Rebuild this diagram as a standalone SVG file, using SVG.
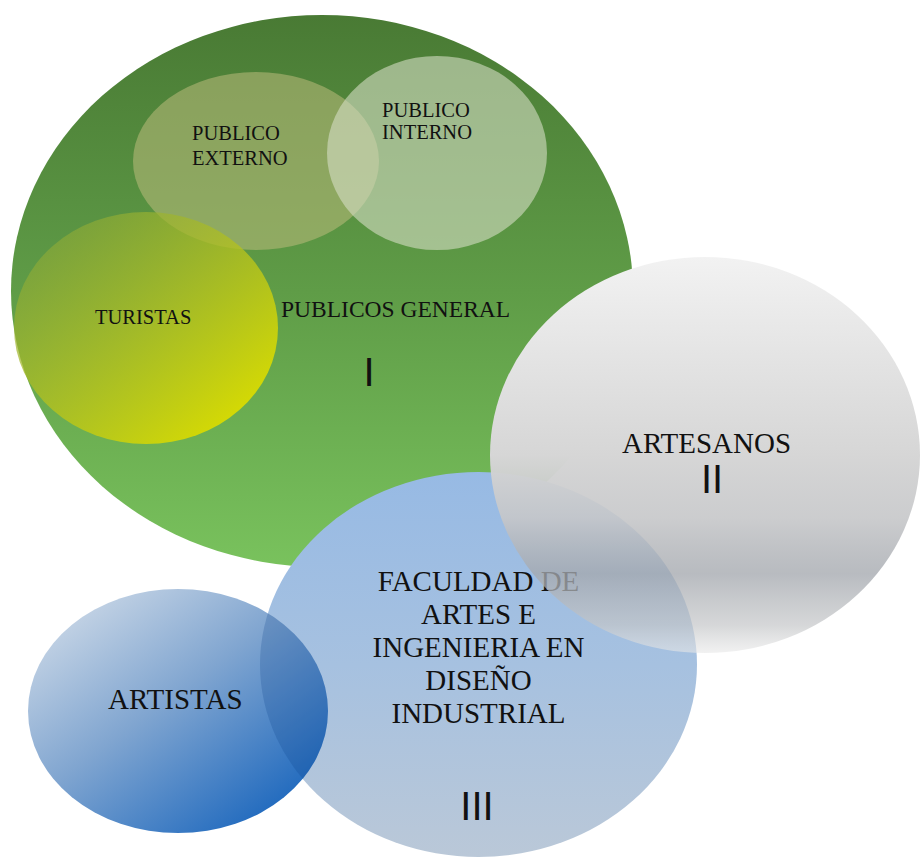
<svg xmlns="http://www.w3.org/2000/svg" width="920" height="858" viewBox="0 0 920 858">
<defs>
<linearGradient id="gGreen" x1="0" y1="0" x2="0" y2="1">
<stop offset="0" stop-color="#497a34"/>
<stop offset="0.5" stop-color="#5f9c47"/>
<stop offset="1" stop-color="#79c25d"/>
</linearGradient>
<linearGradient id="gTur" x1="0.1" y1="0.1" x2="0.85" y2="0.9">
<stop offset="0" stop-color="#8aa83a" stop-opacity="0.6"/>
<stop offset="0.5" stop-color="#b2c020" stop-opacity="0.8"/>
<stop offset="1" stop-color="#dadc00" stop-opacity="0.97"/>
</linearGradient>
<linearGradient id="gBlue" x1="0" y1="0" x2="0" y2="1">
<stop offset="0" stop-color="#97bae4"/>
<stop offset="0.5" stop-color="#a6c1e0"/>
<stop offset="1" stop-color="#bac8d8"/>
</linearGradient>
<linearGradient id="gGrey" x1="0" y1="0" x2="0" y2="1">
<stop offset="0" stop-color="#f2f2f2" stop-opacity="1"/>
<stop offset="0.5" stop-color="#d6d6d6" stop-opacity="1"/>
<stop offset="0.66" stop-color="#c6c7c9" stop-opacity="0.9"/>
<stop offset="0.8" stop-color="#a4a8ae" stop-opacity="0.78"/>
<stop offset="0.93" stop-color="#c4c6c8" stop-opacity="0.7"/>
<stop offset="1" stop-color="#e8e8e8" stop-opacity="0.6"/>
</linearGradient>
<linearGradient id="gArt" x1="0.12" y1="0.08" x2="0.88" y2="0.92">
<stop offset="0" stop-color="#c8d6e6"/>
<stop offset="0.45" stop-color="#80a5d0"/>
<stop offset="1" stop-color="#1a66bd"/>
</linearGradient>
<clipPath id="cArt">
<ellipse cx="178" cy="711" rx="150" ry="122"/>
</clipPath>
</defs>
<style>
.lbl{font-family:"Liberation Serif","Times New Roman",serif;fill:#111}
.num{font-family:"Liberation Sans",Arial,sans-serif;fill:#111;font-size:40px;text-anchor:middle}
.s{font-size:20.5px}
.m{font-size:23.5px}
.l{font-size:29px}
</style>
<g id="connectors"></g>
<g id="publicos-general">
<ellipse cx="322" cy="291" rx="311" ry="276" fill="url(#gGreen)"/>
</g>
<g id="publico-externo">
<ellipse cx="256" cy="161" rx="123" ry="89" fill="#bcbc7c" fill-opacity="0.55"/>
</g>
<g id="publico-interno">
<ellipse cx="437" cy="153" rx="110" ry="97" fill="#d6ddc4" fill-opacity="0.6"/>
</g>
<g id="turistas">
<ellipse cx="146" cy="328" rx="132" ry="116" fill="url(#gTur)"/>
</g>
<g id="labels-green">
<text class="lbl s" x="192" y="140">PUBLICO</text>
<text class="lbl s" x="192" y="165">EXTERNO</text>
<text class="lbl s" x="382" y="117">PUBLICO</text>
<text class="lbl s" x="382" y="139">INTERNO</text>
<text class="lbl s" x="95" y="324">TURISTAS</text>
<text class="lbl m" x="281" y="317">PUBLICOS GENERAL</text>
<text class="num" x="369" y="386">I</text>
</g>
<g id="facultad">
<ellipse cx="478.5" cy="664.5" rx="218.5" ry="192.5" fill="url(#gBlue)"/>
<g class="lbl l" text-anchor="middle">
<text x="478.5" y="591">FACULDAD DE</text>
<text x="478.5" y="624">ARTES E</text>
<text x="478.5" y="657">INGENIERIA EN</text>
<text x="478.5" y="690">DISEÑO</text>
<text x="478.5" y="723">INDUSTRIAL</text>
</g>
<text class="num" x="477" y="820">III</text>
</g>
<g id="artistas">
<ellipse cx="178" cy="711" rx="150" ry="122" fill="url(#gArt)"/>
<ellipse cx="478.5" cy="664.5" rx="218.5" ry="192.5" fill="#0b3f88" fill-opacity="0.22" clip-path="url(#cArt)"/>
<text class="lbl l" x="108" y="709">ARTISTAS</text>
</g>
<g id="artesanos">
<ellipse cx="705" cy="455" rx="215" ry="198" fill="url(#gGrey)"/>
<text class="lbl l" x="622" y="453">ARTESANOS</text>
<text class="num" x="712" y="493">II</text>
</g>
</svg>
